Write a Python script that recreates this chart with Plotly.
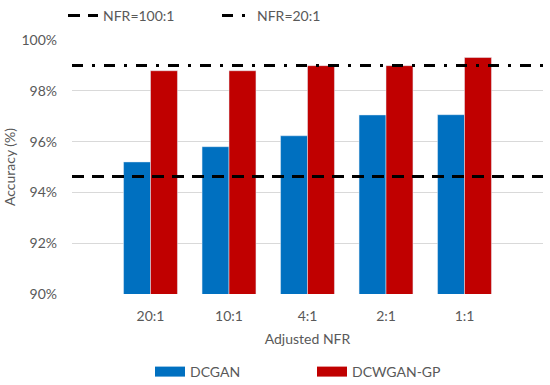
import plotly.graph_objects as go

categories = ["20:1", "10:1", "4:1", "2:1", "1:1"]
dcgan = [95.20, 95.80, 96.23, 97.05, 97.06]
dcwgan_gp = [98.79, 98.79, 98.99, 98.99, 99.31]
nfr_100 = 94.63
nfr_20 = 99.00
y_ticks = [90, 92, 94, 96, 98, 100]
y_tick_labels = [f"{v}%" for v in y_ticks]

BLUE = "#0070C0"
RED = "#C00000"
GRAY = "#595959"
FONT = "Lato"

xpos = list(range(1, len(categories) + 1))
x_span = [0, len(categories) + 1]

fig = go.Figure()
fig.add_trace(go.Bar(x=xpos, y=dcgan, name="DCGAN", marker_color=BLUE,
                     showlegend=False, legendgroup="a"))
fig.add_trace(go.Bar(x=xpos, y=dcwgan_gp, name="DCWGAN-GP", marker_color=RED,
                     showlegend=False, legendgroup="b"))
fig.add_trace(go.Scatter(x=x_span, y=[nfr_100, nfr_100], mode="lines", name="NFR=100:1",
                         line=dict(color="black", width=3, dash="12px,8px"), legend="legend"))
fig.add_trace(go.Scatter(x=x_span, y=[nfr_20, nfr_20], mode="lines", name="NFR=20:1",
                         line=dict(color="black", width=3, dash="11px,9px,3px,9px"), legend="legend2"))
# legend swatches for bars (wide rectangles as in the reference)
fig.add_trace(go.Scatter(x=[None], y=[None], mode="lines", name="DCGAN", legendgroup="a",
                         line=dict(color=BLUE, width=10), legend="legend3"))
fig.add_trace(go.Scatter(x=[None], y=[None], mode="lines", name="DCWGAN-GP", legendgroup="b",
                         line=dict(color=RED, width=10), legend="legend4"))


def leg(xpx, ypx):
    return dict(orientation="h", x=xpx / 550, xanchor="left", xref="container",
                y=1 - ypx / 385, yanchor="middle", yref="container",
                font=dict(size=14, color=GRAY), bgcolor="rgba(0,0,0,0)")


fig.update_layout(
    width=550, height=385,
    margin=dict(l=72, r=7, t=40, b=91, autoexpand=False),
    paper_bgcolor="white", plot_bgcolor="white",
    font=dict(family=FONT, size=14, color=GRAY),
    barmode="group", bargap=0.313, bargroupgap=0,
    xaxis=dict(range=x_span, tickvals=xpos, ticktext=categories, showgrid=False,
               zeroline=False, showline=False, ticks="", automargin=False,
               ticklabelstandoff=12,
               title=dict(text="Adjusted NFR", standoff=11, font=dict(size=14, color=GRAY))),
    yaxis=dict(range=[90, 100], tickvals=y_ticks, ticktext=y_tick_labels, showgrid=True,
               gridcolor="#D9D9D9", gridwidth=1, zeroline=False, showline=False, ticks="",
               ticklabelstandoff=14, automargin=False,
               title=dict(text="Accuracy (%)", standoff=2, font=dict(size=14, color=GRAY))),
    legend=leg(63, 16),
    legend2=leg(217, 16),
    legend3=leg(150, 372),
    legend4=leg(312, 372),
)

fig.write_html("out.html", config={"displayModeBar": False},
               post_script="document.body.style.margin='0';")
